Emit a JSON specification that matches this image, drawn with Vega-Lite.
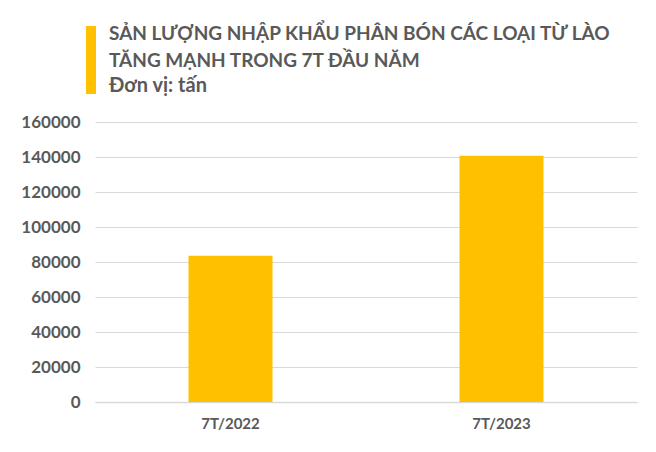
{
  "$schema": "https://vega.github.io/schema/vega-lite/v6.json",
  "width": 542,
  "height": 280,
  "autosize": {"type": "none"},
  "padding": {"left": 95, "top": 122, "right": 19, "bottom": 50},
  "background": "white",
  "title": {
    "text": ["SẢN LƯỢNG NHẬP KHẨU PHÂN BÓN CÁC LOẠI TỪ LÀO", "TĂNG MẠNH TRONG 7T ĐẦU NĂM"],
    "subtitle": "Đơn vị: tấn",
    "anchor": "start",
    "frame": "group",
    "dx": 14,
    "offset": -70,
    "font": "Lato",
    "fontSize": 19,
    "fontWeight": "bold",
    "color": "#595959",
    "lineHeight": 27,
    "subtitleFont": "Lato",
    "subtitleFontSize": 20,
    "subtitleFontWeight": "bold",
    "subtitleColor": "#595959",
    "subtitlePadding": 5
  },
  "data": {
    "values": [
      {"period": "7T/2022", "value": 83600, "series": "Sản lượng"},
      {"period": "7T/2023", "value": 140700, "series": "Sản lượng"}
    ]
  },
  "mark": {"type": "bar"},
  "encoding": {
    "x": {
      "field": "period",
      "type": "nominal",
      "sort": null,
      "scale": {"paddingInner": 0.69, "paddingOuter": 0.345},
      "axis": {
        "title": null,
        "labelAngle": 0,
        "labelFont": "Lato",
        "labelFontSize": 15,
        "labelFontWeight": "bold",
        "labelColor": "#595959",
        "labelPadding": 14,
        "ticks": false,
        "domainColor": "#d9d9d9",
        "domainWidth": 1.5,
        "grid": false
      }
    },
    "y": {
      "field": "value",
      "type": "quantitative",
      "scale": {"domain": [0, 160000], "nice": false},
      "axis": {
        "title": null,
        "values": [0, 20000, 40000, 60000, 80000, 100000, 120000, 140000, 160000],
        "format": "d",
        "labelFont": "Lato",
        "labelFontSize": 17,
        "labelFontWeight": "bold",
        "labelColor": "#595959",
        "labelPadding": 15,
        "ticks": false,
        "domain": false,
        "grid": true,
        "gridColor": "#d9d9d9",
        "gridWidth": 1
      }
    },
    "color": {
      "field": "series",
      "type": "nominal",
      "scale": {"range": ["#FFC000"]},
      "legend": {
        "orient": "none",
        "legendX": -38,
        "legendY": -96,
        "title": null,
        "labelExpr": "''",
        "padding": 0,
        "symbolType": "M-0.147,-1 L0.147,-1 L0.147,1 L-0.147,1 Z",
        "symbolSize": 4624,
        "symbolStrokeWidth": 0,
        "symbolOpacity": 1,
        "labelOffset": 0,
        "labelFontSize": 1
      }
    }
  },
  "config": {
    "view": {"stroke": null}
  }
}
